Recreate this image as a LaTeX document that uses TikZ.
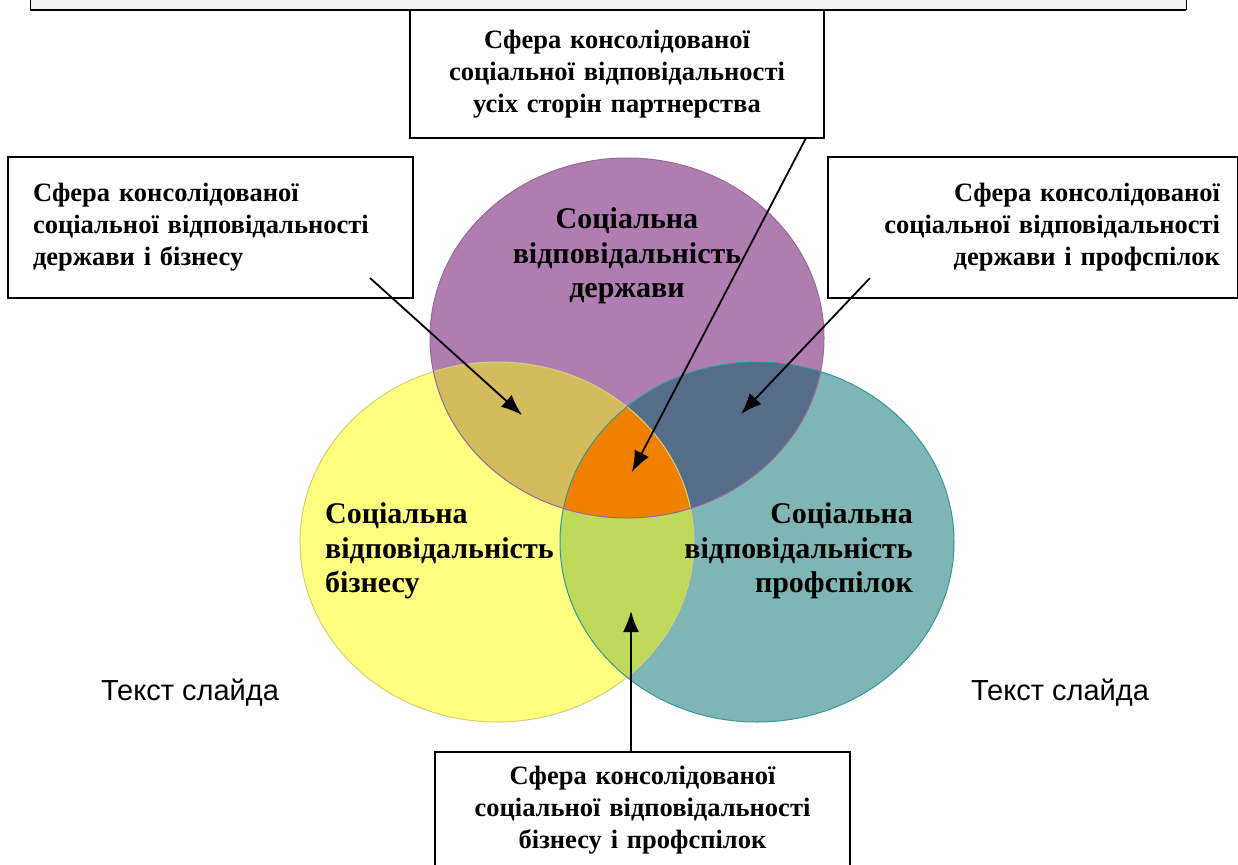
\documentclass[tikz,border=0pt]{standalone}
\usepackage{fontspec}
\setmainfont{Liberation Serif}
\newfontfamily\slidefont{Liberation Sans}
\usetikzlibrary{arrows.meta}

\definecolor{statecol}{HTML}{B07DB0}
\definecolor{bizcol}{HTML}{FFFF80}
\definecolor{unioncol}{HTML}{80B5B5}
\definecolor{statebiz}{HTML}{D4BC5C}
\definecolor{stateunion}{HTML}{566D8A}
\definecolor{bizunion}{HTML}{BFD95A}
\definecolor{allcol}{HTML}{F08000}

\def\statecircle{(627,338) ellipse [x radius=197, y radius=180]}
\def\bizcircle{(497,542) ellipse [x radius=197, y radius=180]}
\def\unioncircle{(757,542) ellipse [x radius=197, y radius=180]}

\begin{document}
\begin{tikzpicture}[x=1pt,y=-1pt,
  sphere/.style={draw=black, line width=1.5pt, fill=white, inner ysep=0pt,
    font=\bfseries\fontsize{26.5}{32}\selectfont},
  area/.style={inner sep=0pt, font=\bfseries\fontsize{30}{34.5}\selectfont},
  ptr/.style={-{Latex[length=21pt,width=16pt]}, line width=1.8pt}]
\useasboundingbox (0,0) rectangle (1238,864);

% slide title bar
\fill[gray!12] (30,-10) rectangle (1186,10);
\draw[line width=0.8pt] (30,-10) -- (30,10) (1186,-10) -- (1186,10);
\draw[line width=1.8pt] (30,10) -- (1186,10);

% circles
\fill[bizcol] \bizcircle;
\fill[unioncol] \unioncircle;
\fill[statecol] \statecircle;
\begin{scope}
  \clip \statecircle;
  \fill[statebiz] \bizcircle;
  \fill[stateunion] \unioncircle;
\end{scope}
\begin{scope}
  \clip \bizcircle;
  \fill[bizunion] \unioncircle;
  \clip \statecircle;
  \fill[allcol] \unioncircle;
\end{scope}
\draw[bizcol!80!black!90, line width=1pt] \bizcircle;
\draw[teal!80, line width=1pt] \unioncircle;
\draw[statecol!85!black, line width=1pt] \statecircle;

% circle texts
\node[area, align=center] (state) at (627,256) {Соціальна\\відповідальність\\держави};
\node[area, align=left, anchor=west] (biz) at (325,551) {Соціальна\\відповідальність\\бізнесу};
\node[area, align=right, anchor=east] (union) at (913,551) {Соціальна\\відповідальність\\профспілок};

% slide placeholders
\node[font=\slidefont\fontsize{29}{32}\selectfont] (txtl) at (190,693) {Текст слайда};
\node[font=\slidefont\fontsize{29}{32}\selectfont] (txtr) at (1060,693) {Текст слайда};

% boxes
\node[sphere, text width=380pt, inner xsep=17pt, minimum height=128pt, align=center] (allbox) at (617,74)
  {Сфера консолідованої\\соціальної відповідальності\\усіх сторін партнерства};
\node[sphere, text width=355pt, inner xsep=25pt, minimum height=141pt, align=left] (sbbox) at (210.5,227.5)
  {Сфера консолідованої\\соціальної відповідальності\\держави і бізнесу};
\node[sphere, text width=374pt, inner xsep=18pt, minimum height=141pt, align=right] (subox) at (1033,227.5)
  {Сфера консолідованої\\соціальної відповідальності\\держави і профспілок};
\node[sphere, text width=381pt, inner xsep=17pt, minimum height=116pt, align=center] (bubox) at (642.5,810)
  {Сфера консолідованої\\соціальної відповідальності\\бізнесу і профспілок};

% pointers
\coordinate (sbfrom) at (370,278);
\coordinate (sbto) at (522,415);
\coordinate (allfrom) at (806,138);
\coordinate (allto) at (632,472);
\coordinate (sufrom) at (870,278);
\coordinate (suto) at (741,414);
\coordinate (bufrom) at (631,752);
\coordinate (buto) at (631,611);
\path[ptr]
(sbfrom) edge (sbto)
(allfrom) edge (allto)
(sufrom) edge (suto)
(bufrom) edge (buto);
\end{tikzpicture}
\end{document}
